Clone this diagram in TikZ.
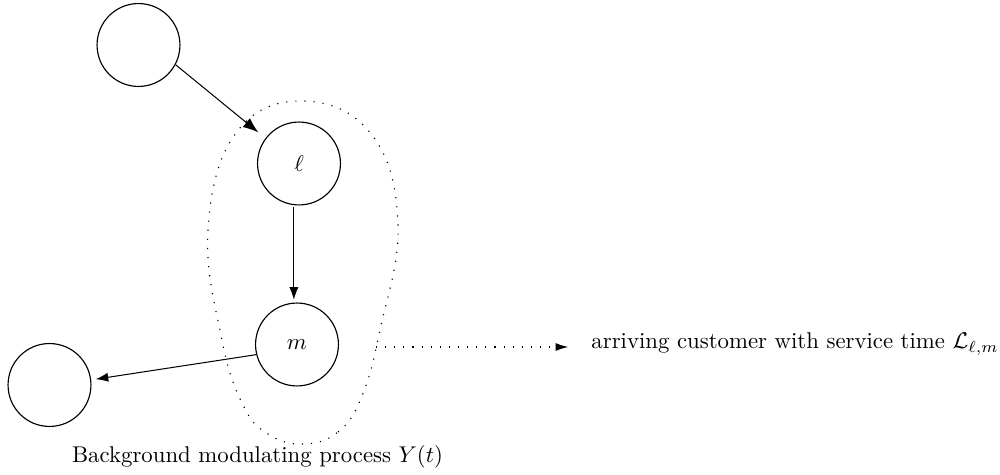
\documentclass[tikz,border=0pt]{standalone}
\usetikzlibrary{arrows.meta,calc}
\begin{document}
\begin{tikzpicture}[x=0.439pt,y=-0.439pt,
  state/.style={draw,circle,minimum size=36.4pt,inner sep=0pt,line width=0.5pt},
  edge/.style={line width=0.45pt,-{Latex[length=5.5pt,width=4pt]}},
  bigedge/.style={line width=0.45pt,-{Latex[length=6.8pt,width=5pt]}},
  dotline/.style={line width=0.5pt,dash pattern=on 0.5pt off 3.5pt}]
\useasboundingbox (0,0) rectangle (1000,475);
\node[state] (tl) at (138.5,45) {};
\node[state] (l) at (299,163.5) {$\ell$};
\node[state] (m) at (297,344.5) {$m$};
\node[state] (bl) at (49.5,385) {};
\draw[dotline] plot[smooth cycle,tension=0.7] coordinates {(303,444) (338,432) (362,396) (380,330) (398,225) (372,135) (303,101) (236,133) (208,230) (222,340) (243,405) (268,434)};
\coordinate (egr) at (376,347);
\node[anchor=west,inner sep=0pt] (arr) at (591,344) {arriving customer with service time $\mathcal{L}_{\ell,m}$};
\node[inner sep=0pt] (bg) at (257.5,457) {Background modulating process $Y(t)$};
\draw[bigedge,shorten >=4pt] (tl.-28.6) -- (l.143.4);
\draw[edge,shorten <=1pt,shorten >=1.2pt] (l.263) -- (l.263 |- m.north);
\draw[edge,shorten >=2pt] (m.194) -- (bl.7.5);
\draw[dotline,-{Latex[length=5.5pt,width=3.5pt]},shorten >=10pt] (egr) -- (arr.west|-egr);
\end{tikzpicture}
\end{document}
